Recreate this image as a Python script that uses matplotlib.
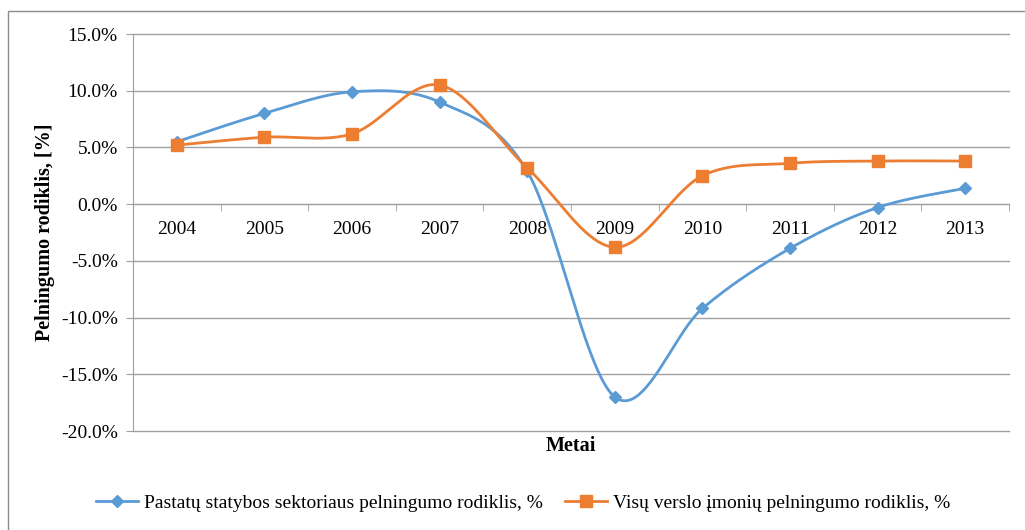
import numpy as np
import matplotlib
matplotlib.use("Agg")
import matplotlib.pyplot as plt
from matplotlib.patches import Rectangle
from matplotlib.lines import Line2D
from matplotlib.ticker import FuncFormatter, MultipleLocator, FixedLocator

years = ["2004", "2005", "2006", "2007", "2008", "2009", "2010", "2011", "2012", "2013"]
construction = [5.5, 8.0, 9.9, 9.0, 2.9, -17.0, -9.2, -3.9, -0.3, 1.4]
all_business = [5.2, 5.9, 6.2, 10.5, 3.2, -3.8, 2.5, 3.6, 3.8, 3.8]
label_construction = "Pastatų statybos sektoriaus pelningumo rodiklis, %"
label_all = "Visų verslo įmonių pelningumo rodiklis, %"
y_title = "Pelningumo rodiklis, [%]"
x_title = "Metai"

BLUE = "#5B9BD5"
ORANGE = "#ED7D31"
GRID = "#A0A0A0"

plt.rcParams['font.family'] = ['Liberation Serif', 'DejaVu Serif']


def smooth(xs, ys, n=40):
    P = np.column_stack([xs, ys]).astype(float)
    out = []
    for i in range(len(P) - 1):
        p0 = P[i - 1] if i > 0 else P[i]
        p1 = P[i]
        p2 = P[i + 1]
        p3 = P[i + 2] if i + 2 < len(P) else P[i + 1]
        c1 = p1 + (p2 - p0) / 6.0
        c2 = p2 - (p3 - p1) / 6.0
        t = np.linspace(0, 1, n)[:, None]
        seg = (1 - t) ** 3 * p1 + 3 * (1 - t) ** 2 * t * c1 + 3 * (1 - t) * t ** 2 * c2 + t ** 3 * p2
        out.append(seg if i == 0 else seg[1:])
    return np.vstack(out)


fig = plt.figure(figsize=(10.25, 5.30), dpi=100)
ax = fig.add_axes([133 / 1025, 1 - 431 / 530, 876 / 1025, 397 / 530])

x = np.arange(len(years))
for vals, col, mk, ms in [(construction, BLUE, 'D', 6), (all_business, ORANGE, 's', 8)]:
    s = smooth(x, vals)
    ax.plot(s[:, 0], s[:, 1], color=col, lw=2.0, zorder=3, solid_capstyle='round')
    ax.plot(x, vals, linestyle='none', marker=mk, markersize=ms, color=col, zorder=4)

ax.set_xlim(-0.5, len(years) - 0.5)
ax.set_ylim(-20, 15)
ax.yaxis.set_major_locator(MultipleLocator(5))
ax.yaxis.set_major_formatter(FuncFormatter(lambda v, p: f"{v:.1f}%"))
ax.grid(axis='y', color=GRID, lw=1.0)
for gl in ax.get_ygridlines():
    gl.set_clip_on(False)
ax.set_axisbelow(True)

for sp in ['top', 'right']:
    ax.spines[sp].set_visible(False)
ax.spines['left'].set_color(GRID)
ax.spines['bottom'].set_color(GRID)
ax.spines['bottom'].set_position(('data', 0))

ax.xaxis.set_major_locator(FixedLocator(x))
ax.set_xticklabels(years)
ax.xaxis.set_minor_locator(FixedLocator(np.arange(-0.5, len(years), 1.0)))
ax.tick_params(axis='x', which='major', length=0, pad=12, labelsize=14)
ax.tick_params(axis='x', which='minor', length=5, color=GRID, direction='out')
ax.tick_params(axis='y', length=5, color=GRID, pad=6, labelsize=14)

fig.text(45 / 1025, 1 - 232 / 530, y_title, rotation=90, ha='center', va='center',
         fontsize=14.5, fontweight='bold')
fig.text(571 / 1025, 1 - 446 / 530, x_title, ha='center', va='center',
         fontsize=14.5, fontweight='bold')

handles = [Line2D([], [], color=BLUE, lw=2.0, marker='D', markersize=6),
           Line2D([], [], color=ORANGE, lw=2.0, marker='s', markersize=8)]
fig.legend(handles, [label_construction, label_all], loc='center',
           bbox_to_anchor=(523 / 1025, 1 - 503 / 530), ncol=2, frameon=False,
           fontsize=14, handlelength=2.2, handletextpad=0.3, columnspacing=1.1)

fig.add_artist(Rectangle((7.5 / 1025, -0.1), 1.2, 1.1 - 10.5 / 530, transform=fig.transFigure,
                         fill=False, edgecolor='#8C8C8C', lw=1.0, clip_on=False))

fig.savefig("out.png", dpi=100)
